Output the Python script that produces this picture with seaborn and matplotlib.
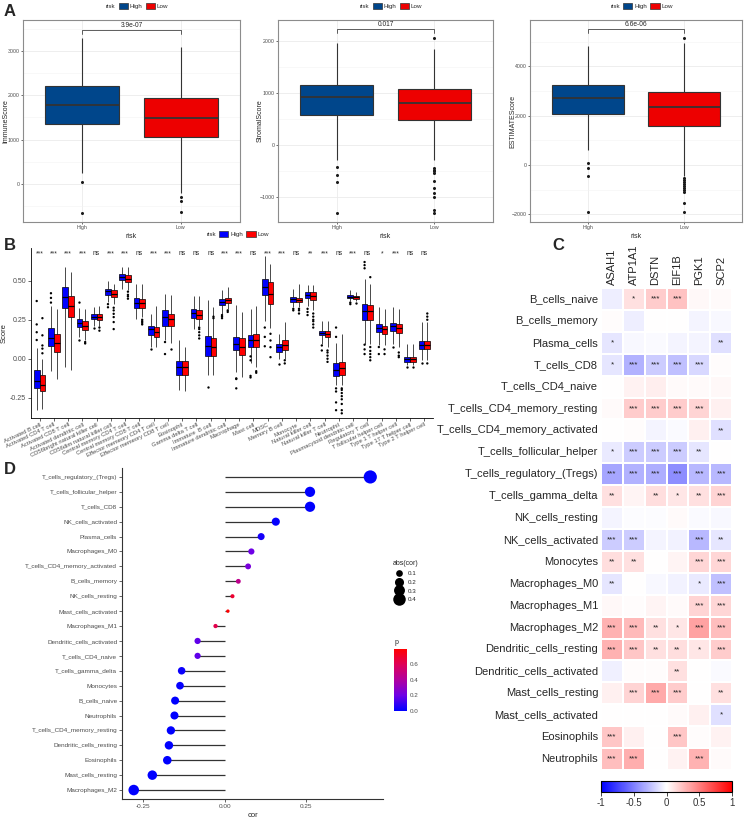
import numpy as np
import pandas as pd
import seaborn as sns
import matplotlib as mpl
import matplotlib.pyplot as plt
from matplotlib.patches import Patch
from matplotlib.lines import Line2D
from matplotlib.colors import LinearSegmentedColormap, Normalize
from matplotlib.ticker import MultipleLocator, FormatStrFormatter

sns.set_style('white')
plt.rcParams['font.family'] = ['Liberation Sans', 'DejaVu Sans']

# ---------------- data: panel A (5-number summaries + outliers) ----------------
risk = ['High', 'Low']
a_scores = ['ImmuneScore', 'StromalScore', 'ESTIMATEScore']
a_pvals = ['3.9e-07', '0.017', '6.6e-06']
a_high = [[250, 1350, 1770, 2210, 3300],
          [-290, 570, 930, 1160, 1960],
          [600, 2070, 2700, 3260, 4820]]
a_low = [[-200, 1050, 1480, 1940, 3080],
         [-290, 480, 800, 1070, 1850],
         [-430, 1600, 2340, 2950, 4950]]
a_high_out = [[40, -650],
              [-415, -570, -705, -1300],
              [70, -135, -445, -1915]]
a_low_out = [[-290, -380, -630],
             [2050, -450, -480, -510, -545, -685, -820, -915, -1005, -1250, -1300],
             [5150, -520, -600, -680, -760, -840, -920, -1000, -1080, -1550, -1890]]

# ---------------- data: panel B ----------------
b_cells = ['Activated B cell', 'Activated CD4 T cell', 'Activated CD8 T cell',
           'Activated dendritic cell', 'CD56bright natural killer cell',
           'CD56dim natural killer cell', 'Central memory CD4 T cell',
           'Central memory CD8 T cell', 'Effector memeory CD4 T cell',
           'Effector memeory CD8 T cell', 'Eosinophil', 'Gamma delta T cell',
           'Immature  B cell', 'Immature dendritic cell', 'Macrophage', 'Mast cell',
           'MDSC', 'Memory B cell', 'Monocyte', 'Natural killer cell',
           'Natural killer T cell', 'Neutrophil', 'Plasmacytoid dendritic cell',
           'Regulatory T cell', 'T follicular helper cell', 'Type 1 T helper cell',
           'Type 17 T helper cell', 'Type 2 T helper cell']
b_stars = ['***', '***', '***', '***', 'ns', '***', '***', 'ns', '***', '***',
           'ns', 'ns', 'ns', '***', '***', 'ns', '***', '***', 'ns', '**',
           '***', 'ns', '***', 'ns', '*', '***', 'ns', 'ns']
b_high = [[-0.33, -0.19, -0.145, -0.07, 0.07], [-0.08, 0.08, 0.135, 0.195, 0.34],
          [-0.05, 0.327, 0.395, 0.46, 0.587], [0.14, 0.203, 0.228, 0.256, 0.327],
          [0.207, 0.252, 0.267, 0.284, 0.33], [0.363, 0.41, 0.433, 0.449, 0.497],
          [0.449, 0.502, 0.527, 0.545, 0.59], [0.256, 0.327, 0.359, 0.391, 0.48],
          [0.074, 0.15, 0.192, 0.213, 0.288], [0.117, 0.213, 0.267, 0.31, 0.412],
          [-0.2, -0.105, -0.05, -0.015, 0.117], [0.19, 0.263, 0.292, 0.32, 0.40],
          [-0.107, 0.02, 0.081, 0.143, 0.374], [0.29, 0.342, 0.363, 0.385, 0.44],
          [-0.086, 0.053, 0.096, 0.138, 0.342], [-0.03, 0.074, 0.117, 0.149, 0.32],
          [0.245, 0.406, 0.463, 0.513, 0.66], [0.0, 0.043, 0.074, 0.096, 0.16],
          [0.33, 0.363, 0.38, 0.395, 0.449], [0.34, 0.39, 0.41, 0.427, 0.47],
          [0.096, 0.15, 0.166, 0.181, 0.245], [-0.17, -0.11, -0.07, -0.03, 0.1],
          [0.37, 0.389, 0.397, 0.406, 0.44], [0.096, 0.25, 0.303, 0.353, 0.513],
          [0.085, 0.17, 0.199, 0.224, 0.33], [0.096, 0.175, 0.207, 0.228, 0.33],
          [-0.04, -0.022, -0.004, 0.01, 0.096], [-0.011, 0.064, 0.09, 0.113, 0.235]]
b_low = [[-0.32, -0.21, -0.167, -0.105, 0.0], [-0.13, 0.04, 0.10, 0.16, 0.32],
         [-0.07, 0.267, 0.337, 0.405, 0.555], [0.117, 0.186, 0.213, 0.241, 0.32],
         [0.21, 0.25, 0.27, 0.29, 0.34], [0.35, 0.395, 0.417, 0.438, 0.48],
         [0.44, 0.49, 0.513, 0.534, 0.59], [0.27, 0.327, 0.359, 0.38, 0.48],
         [0.075, 0.138, 0.17, 0.203, 0.34], [0.098, 0.207, 0.256, 0.288, 0.41],
         [-0.21, -0.105, -0.055, -0.015, 0.075], [0.21, 0.256, 0.282, 0.31, 0.40],
         [-0.107, 0.02, 0.074, 0.135, 0.33], [0.32, 0.356, 0.374, 0.39, 0.46],
         [-0.12, 0.026, 0.074, 0.135, 0.30], [-0.05, 0.074, 0.117, 0.16, 0.34],
         [0.2, 0.352, 0.417, 0.49, 0.61], [0.0, 0.053, 0.085, 0.117, 0.235],
         [0.33, 0.363, 0.377, 0.39, 0.48], [0.31, 0.378, 0.404, 0.427, 0.47],
         [0.075, 0.138, 0.16, 0.175, 0.245], [-0.17, -0.105, -0.06, -0.02, 0.16],
         [0.37, 0.385, 0.393, 0.40, 0.43], [0.096, 0.246, 0.303, 0.342, 0.48],
         [0.085, 0.16, 0.192, 0.213, 0.32], [0.075, 0.167, 0.196, 0.22, 0.32],
         [-0.04, -0.022, -0.004, 0.01, 0.096], [-0.011, 0.064, 0.09, 0.113, 0.235]]
b_high_out = [[0.12, 0.17, 0.22, 0.37], [0.36, 0.39, 0.42], [], [0.117, 0.36], [0.2],
              [0.35, 0.33], [], [], [0.06], [0.107, 0.03], [], [], [-0.18],
              [0.28, 0.27, 0.26], [-0.126, -0.13, -0.19], [0.015, -0.01, -0.11, -0.12],
              [0.2, 0.14, 0.08], [-0.035], [0.32, 0.31], [0.32, 0.30, 0.28],
              [0.085, 0.053], [0.14, 0.2, -0.19, -0.21, -0.28, -0.33], [0.36, 0.35],
              [0.62, 0.60, 0.58, 0.09, 0.06, 0.03], [0.075, 0.03], [0.075], [-0.05], [-0.03]]
b_low_out = [[0.26, 0.15, 0.085, 0.065, 0.035], [], [], [0.107, 0.098], [0.2, 0.18],
             [0.327, 0.31, 0.288, 0.267, 0.235, 0.19], [0.43, 0.41, 0.40, 0.385],
             [0.25, 0.24, 0.23, 0.22], [], [0.06], [], [0.2, 0.19, 0.17, 0.15, 0.13],
             [0.27, 0.26], [0.31, 0.30], [], [-0.08, -0.09], [0.16, 0.117, 0.074, 0.01],
             [-0.01, -0.03], [0.32, 0.31, 0.29], [0.29, 0.27, 0.25, 0.24, 0.22, 0.2],
             [0.053, 0.04, 0.02, 0.0, -0.02],
             [-0.19, -0.2, -0.22, -0.24, -0.26, -0.29, -0.33, -0.35], [0.36],
             [0.523, 0.075, 0.05, 0.03, 0.01, -0.01], [0.06, 0.03], [0.04, 0.02, 0.01],
             [-0.05], [0.29, 0.27, 0.25, -0.03]]

# ---------------- data: panel C ----------------
genes = ['ASAH1', 'ATP1A1', 'DSTN', 'EIF1B', 'PGK1', 'SCP2']
imm_cells = ['B_cells_naive', 'B_cells_memory', 'Plasma_cells', 'T_cells_CD8',
             'T_cells_CD4_naive', 'T_cells_CD4_memory_resting',
             'T_cells_CD4_memory_activated', 'T_cells_follicular_helper',
             'T_cells_regulatory_(Tregs)', 'T_cells_gamma_delta', 'NK_cells_resting',
             'NK_cells_activated', 'Monocytes', 'Macrophages_M0', 'Macrophages_M1',
             'Macrophages_M2', 'Dendritic_cells_resting', 'Dendritic_cells_activated',
             'Mast_cells_resting', 'Mast_cells_activated', 'Eosinophils', 'Neutrophils']
cor_vals = [[-0.07, 0.12, 0.2, 0.24, 0.03, 0.02],
            [0.01, -0.07, 0.0, 0.0, -0.04, -0.03],
            [-0.1, -0.03, -0.02, -0.04, -0.04, -0.12],
            [-0.1, -0.3, -0.2, -0.25, -0.15, 0.01],
            [0.0, 0.05, 0.07, 0.02, 0.02, 0.03],
            [0.02, 0.2, 0.2, 0.2, 0.17, 0.06],
            [0.0, 0.01, -0.04, -0.02, 0.06, -0.12],
            [-0.08, -0.2, -0.2, -0.2, -0.1, 0.0],
            [-0.35, -0.3, -0.32, -0.44, -0.28, -0.28],
            [0.12, 0.04, 0.13, 0.1, 0.12, 0.17],
            [-0.04, -0.01, -0.01, 0.02, -0.02, -0.03],
            [-0.2, -0.2, -0.04, -0.05, -0.28, -0.1],
            [0.13, 0.12, 0.0, 0.04, 0.16, 0.16],
            [-0.1, 0.0, -0.03, -0.05, -0.08, -0.25],
            [0.03, 0.01, 0.04, 0.02, 0.17, 0.16],
            [0.3, 0.27, 0.12, 0.1, 0.36, 0.25],
            [0.3, 0.22, 0.12, 0.13, 0.1, 0.2],
            [-0.06, 0.01, 0.01, 0.12, 0.0, -0.02],
            [0.06, 0.17, 0.33, 0.2, 0.0, 0.12],
            [0.0, 0.0, 0.0, 0.02, 0.06, -0.12],
            [0.22, 0.06, 0.0, 0.22, 0.01, 0.05],
            [0.25, 0.32, 0.0, 0.05, 0.3, 0.02]]
cor_stars = [['', '*', '***', '***', '', ''],
             ['', '', '', '', '', ''],
             ['*', '', '', '', '', '**'],
             ['*', '***', '***', '***', '***', ''],
             ['', '', '', '', '', ''],
             ['', '***', '***', '***', '***', ''],
             ['', '', '', '', '', '**'],
             ['*', '***', '***', '***', '**', ''],
             ['***', '***', '***', '***', '***', '***'],
             ['**', '', '**', '*', '**', '***'],
             ['', '', '', '', '', ''],
             ['***', '***', '', '', '***', '**'],
             ['**', '**', '', '', '***', '***'],
             ['**', '', '', '', '*', '***'],
             ['', '', '', '', '***', '***'],
             ['***', '***', '**', '*', '***', '***'],
             ['***', '***', '**', '**', '*', '***'],
             ['', '', '', '**', '', ''],
             ['', '***', '***', '***', '', '**'],
             ['', '', '', '', '', '*'],
             ['***', '', '', '***', '', ''],
             ['***', '***', '', '', '***', '']]

# ---------------- data: panel D ----------------
d_cells = ['T_cells_regulatory_(Tregs)', 'T_cells_follicular_helper', 'T_cells_CD8',
           'NK_cells_activated', 'Plasma_cells', 'Macrophages_M0',
           'T_cells_CD4_memory_activated', 'B_cells_memory', 'NK_cells_resting',
           'Mast_cells_activated', 'Macrophages_M1', 'Dendritic_cells_activated',
           'T_cells_CD4_naive', 'T_cells_gamma_delta', 'Monocytes', 'B_cells_naive',
           'Neutrophils', 'T_cells_CD4_memory_resting', 'Dendritic_cells_resting',
           'Eosinophils', 'Mast_cells_resting', 'Macrophages_M2']
d_cor = [0.447, 0.262, 0.262, 0.157, 0.112, 0.082, 0.072, 0.042, 0.024, 0.010,
         -0.028, -0.083, -0.083, -0.132, -0.137, -0.152, -0.154, -0.165, -0.171,
         -0.176, -0.222, -0.279]
d_p = [0.0, 0.0, 0.0, 0.01, 0.04, 0.2, 0.23, 0.45, 0.68, 0.79, 0.62, 0.17, 0.17,
       0.02, 0.01, 0.0, 0.0, 0.0, 0.0, 0.0, 0.0, 0.0]

# ---------------- layout helpers ----------------
W, H = 747, 819
fig = plt.figure(figsize=(W / 100, H / 100), dpi=100)


def px(x0, y0, x1, y1):
    return [x0 / W, 1 - y1 / H, (x1 - x0) / W, (y1 - y0) / H]


def fxy(x, y):
    return (x / W, 1 - y / H)


TICK_COL = '#4D4D4D'
a_colors = {'High': '#00468B', 'Low': '#ED0000'}
b_colors = {'High': '#0000FF', 'Low': '#FF0000'}

# ---------------- panel A ----------------
a_rects = [(23, 20, 240, 222), (278, 20, 493, 222), (530, 20, 742, 222)]
a_ylims = [(-860, 3700), (-1480, 2400), (-2310, 5880)]
a_steps = [1000, 1000, 2000]
a_bracket = [3470, 2220, 5500]

for i in range(3):
    ax = fig.add_axes(px(*a_rects[i]))
    box_df = pd.DataFrame({'risk': ['High'] * 5 + ['Low'] * 5,
                           'score': a_high[i] + a_low[i]})
    out_df = pd.DataFrame({'risk': ['High'] * len(a_high_out[i]) + ['Low'] * len(a_low_out[i]),
                           'score': a_high_out[i] + a_low_out[i]})
    sns.boxplot(data=box_df, x='risk', y='score', hue='risk', order=risk, hue_order=risk,
                palette=a_colors, saturation=1, width=0.75, whis=(0, 100), showfliers=False,
                showcaps=False, linecolor='#333333', linewidth=0.8,
                medianprops={'linewidth': 1.3}, legend=False, ax=ax)
    sns.stripplot(data=out_df, x='risk', y='score', order=risk, color='#1a1a1a',
                  jitter=False, size=2.2, ax=ax)
    ax.set_xlim(-0.6, 1.6)
    ax.set_ylim(*a_ylims[i])
    ax.yaxis.set_major_locator(MultipleLocator(a_steps[i]))
    ax.yaxis.set_minor_locator(MultipleLocator(a_steps[i] / 2))
    ax.grid(True, which='major', color='#EBEBEB', lw=0.6)
    ax.grid(True, which='minor', axis='y', color='#F3F3F3', lw=0.4)
    ax.set_axisbelow(True)
    for s in ax.spines.values():
        s.set_color('#8C8C8C')
        s.set_linewidth(0.8)
    ax.tick_params(axis='both', which='major', labelsize=3.8, labelcolor=TICK_COL,
                   length=1.5, width=0.5, color='#333333', pad=1, left=True, bottom=True)
    ax.tick_params(which='minor', length=0)
    ax.set_xlabel('risk', fontsize=5, labelpad=1.5)
    ax.set_ylabel(a_scores[i], fontsize=5, va='center')
    aw = a_rects[i][2] - a_rects[i][0]
    ax.yaxis.set_label_coords(-17.5 / aw, 0.5)
    yb = a_bracket[i]
    dy = (a_ylims[i][1] - a_ylims[i][0]) * 0.018
    ax.plot([0, 0, 1, 1], [yb - dy, yb, yb, yb - dy], color='#444444', lw=0.6)
    ax.text(0.5, yb + dy * 0.4, a_pvals[i], ha='center', va='bottom', fontsize=4.8)
    cx = (a_rects[i][0] + a_rects[i][2]) / 2
    handles = [Line2D([], [], ls='none')] + [Patch(facecolor=a_colors[r], edgecolor='#333333', lw=0.5) for r in risk]
    fig.legend(handles, ['risk'] + risk, loc='center', bbox_to_anchor=fxy(cx, 6), ncol=3,
               frameon=False, fontsize=4.5, handlelength=1.5, handleheight=1.0,
               handletextpad=0.3, columnspacing=0.5, borderpad=0)

# ---------------- panel B ----------------
axb = fig.add_axes(px(31, 248, 433, 418))
rows, orows = [], []
for i, c in enumerate(b_cells):
    rows += [(c, 'High', v) for v in b_high[i]] + [(c, 'Low', v) for v in b_low[i]]
    orows += [(c, 'High', v) for v in b_high_out[i]] + [(c, 'Low', v) for v in b_low_out[i]]
bdf = pd.DataFrame(rows, columns=['cell', 'risk', 'score'])
bodf = pd.DataFrame(orows, columns=['cell', 'risk', 'score'])
sns.boxplot(data=bdf, x='cell', y='score', hue='risk', order=b_cells, hue_order=risk,
            palette=b_colors, saturation=1, width=0.8, whis=(0, 100), showfliers=False,
            showcaps=False, linecolor='black', linewidth=0.5,
            medianprops={'linewidth': 0.9}, legend=False, ax=axb)
sns.stripplot(data=bodf, x='cell', y='score', hue='risk', order=b_cells, hue_order=risk,
              palette={'High': 'black', 'Low': 'black'}, dodge=True, jitter=False,
              size=1.7, legend=False, ax=axb)
for i, s in enumerate(b_stars):
    axb.text(i, 0.675, s, ha='center', va='center', fontsize=4.8)
axb.set_xlim(-0.6, len(b_cells) - 0.4)
axb.set_ylim(-0.38, 0.71)
axb.set_yticks([-0.25, 0.0, 0.25, 0.5])
axb.yaxis.set_major_formatter(FormatStrFormatter('%.2f'))
axb.set_xticks(range(len(b_cells)))
axb.set_xticklabels(b_cells, rotation=25, ha='right', rotation_mode='anchor',
                    fontsize=4.2, color=TICK_COL)
axb.tick_params(axis='y', labelsize=5, labelcolor=TICK_COL, length=2, width=0.5, left=True, pad=1.5)
axb.tick_params(axis='x', length=2, width=0.5, bottom=True, pad=1)
axb.set_xlabel('')
axb.set_ylabel('Score', fontsize=5.5, labelpad=2)
for k in ['top', 'right']:
    axb.spines[k].set_visible(False)
for k in ['left', 'bottom']:
    axb.spines[k].set_color('black')
    axb.spines[k].set_linewidth(0.6)
handles = [Line2D([], [], ls='none')] + [Patch(facecolor=b_colors[r], edgecolor='#333333', lw=0.5) for r in risk]
fig.legend(handles, ['risk'] + risk, loc='center', bbox_to_anchor=fxy(232, 234), ncol=3,
           frameon=False, fontsize=4.5, handlelength=1.5, handleheight=1.0,
           handletextpad=0.3, columnspacing=0.5, borderpad=0)

# ---------------- panel C ----------------
axc = fig.add_axes(px(601, 288, 732, 770))
cax = fig.add_axes(px(601, 781, 732, 792))
cor_df = pd.DataFrame(cor_vals, index=imm_cells, columns=genes)
sns.heatmap(cor_df, ax=axc, cbar_ax=cax, cmap='bwr', vmin=-1, vmax=1,
            annot=np.array(cor_stars), fmt='', annot_kws={'size': 5.8, 'color': '#222222'},
            linewidths=1.2, linecolor='white',
            cbar_kws={'orientation': 'horizontal', 'ticks': [-1, -0.5, 0, 0.5, 1]})
axc.xaxis.tick_top()
axc.set_xticklabels(genes, rotation=90, fontsize=8)
axc.set_yticklabels(imm_cells, rotation=0, fontsize=8)
axc.tick_params(length=0, pad=2)
axc.set_xlabel('')
axc.set_ylabel('')
cbar = axc.collections[0].colorbar
cbar.outline.set_edgecolor('black')
cbar.outline.set_linewidth(0.8)
cax.set_xticklabels(['-1', '-0.5', '0', '0.5', '1'])
cax.tick_params(labelsize=7, length=3, width=0.6, pad=1.5, labelcolor='#333333')

# ---------------- panel D ----------------
p_cmap = LinearSegmentedColormap.from_list('p_grad', ['#0000FF', '#6E00E6', '#B0009F', '#DE0058', '#FF0000'])
axd = fig.add_axes(px(122, 468, 383, 799))
ddf = pd.DataFrame({'cell': d_cells, 'cor': d_cor, 'p': d_p})
ddf['pos'] = np.arange(len(d_cells))
ddf['abs'] = ddf['cor'].abs()
S_MIN, S_MAX, A_MIN, A_MAX = 6, 90, 0.01, 0.447
axd.hlines(ddf['pos'], 0, ddf['cor'], color='#333333', lw=0.9, zorder=1)
sns.scatterplot(data=ddf, x='cor', y='pos', hue='p', size='abs', palette=p_cmap,
                hue_norm=(0, 0.79), sizes=(S_MIN, S_MAX), size_norm=(A_MIN, A_MAX),
                linewidth=0, legend=False, ax=axd, zorder=3)
axd.set_ylim(len(d_cells) - 0.4, -0.6)
axd.set_xlim(-0.315, 0.486)
axd.set_yticks(ddf['pos'])
axd.set_yticklabels(d_cells)
axd.set_xticks([-0.25, 0.0, 0.25])
axd.xaxis.set_major_formatter(FormatStrFormatter('%.2f'))
axd.tick_params(labelsize=4.6, labelcolor=TICK_COL, length=2, width=0.5, left=True,
                bottom=True, pad=1.5)
axd.set_xlabel('cor', fontsize=5.5, labelpad=2)
axd.set_ylabel('')
for k in ['top', 'right']:
    axd.spines[k].set_visible(False)
for k in ['left', 'bottom']:
    axd.spines[k].set_color('#333333')
    axd.spines[k].set_linewidth(0.8)

size_vals = [0.1, 0.2, 0.3, 0.4]
sz_handles = [Line2D([], [], marker='o', ls='none', color='black', markeredgewidth=0,
                     markersize=np.sqrt(S_MIN + (S_MAX - S_MIN) * (v - A_MIN) / (A_MAX - A_MIN)))
              for v in size_vals]
fig.legend(sz_handles, [str(v) for v in size_vals], title='abs(cor)', loc='upper left',
           bbox_to_anchor=fxy(390, 557), frameon=False, fontsize=4.5, title_fontsize=5,
           labelspacing=0.55, handletextpad=0.4, alignment='left', borderpad=0)

pax = fig.add_axes(px(394, 649, 407, 711))
cb = fig.colorbar(mpl.cm.ScalarMappable(norm=Normalize(0, 0.79), cmap=p_cmap), cax=pax)
cb.set_ticks([0, 0.2, 0.4, 0.6])
cb.set_ticklabels(['0.0', '0.2', '0.4', '0.6'])
cb.outline.set_visible(False)
pax.tick_params(labelsize=4.5, length=2, color='white', width=0.5, direction='in',
                labelcolor=TICK_COL, pad=2)
fig.text(*fxy(395, 642), 'p', fontsize=5, va='center')

# ---------------- panel letters ----------------
for letter, (x, y) in zip('ABCD', [(4, 11), (4, 246), (552, 246), (4, 470)]):
    fig.text(*fxy(x, y), letter, fontsize=12, weight='bold', va='center', ha='left')

fig.savefig('out.png', dpi=100)
